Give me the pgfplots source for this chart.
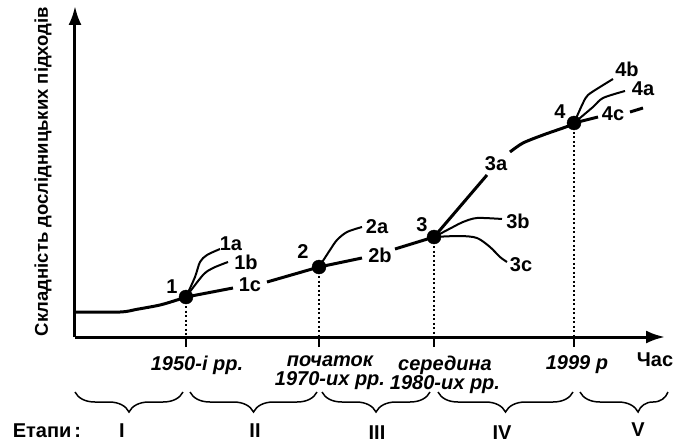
\documentclass[border=0pt]{standalone}
\usepackage{fontspec}
\setmainfont{Liberation Sans}
\usepackage{pgfplots}
\pgfplotsset{compat=1.18}
\usetikzlibrary{arrows.meta,decorations.pathreplacing}
\newcommand{\lab}{\fontsize{20bp}{22bp}\selectfont\bfseries}
\begin{document}
\begin{tikzpicture}
\begin{axis}[
  scale only axis, width=590bp, height=331bp,
  xmin=0, xmax=590, ymin=0, ymax=331,
  enlargelimits=false, clip=false,
  axis x line=bottom, axis y line=left,
  axis line style={line width=3bp},
  x axis line style={-{Latex[length=19bp,width=13bp]}},
  y axis line style={-{Latex[length=19bp,width=13bp]}},
  ytick=\empty,
  xtick={111,244,359},
  xticklabels={1950-і рр., {початок\\1970-их рр.}, {середина\\1980-их рр.}},
  extra x ticks={499}, extra x tick labels={1999 р},
  tick align=outside, major tick length=10bp,
  xtick style={line width=1.5bp, black},
  xticklabel style={font=\fontsize{20bp}{19.5bp}\selectfont\bfseries\itshape, align=center, xshift=11bp, yshift=-5bp},
  extra x tick style={xticklabel style={xshift=-8bp}},
  ylabel={Складність дослідницьких підходів},
  ylabel style={font=\fontsize{18.5bp}{21bp}\selectfont\bfseries, at={(axis description cs:-0.0339,0.5)}, anchor=south},
]
% main path
\addplot[smooth, line width=3bp] coordinates {(0,25) (45,25) (62,27.7) (85,32) (102,37) (111,40)};
\addplot[line width=3bp] coordinates {(111,40) (158,49)};
\addplot[line width=3bp] coordinates {(192,55) (244,70)};
\addplot[line width=3bp] coordinates {(244,70) (287,79)};
\addplot[line width=3bp] coordinates {(320,88) (359,100)};
\addplot[line width=3bp] coordinates {(359,100) (412,162)};
\addplot[smooth, line width=3bp] coordinates {(435,185) (448,194) (468,202) (488,209) (499,213)};
\addplot[line width=3bp] coordinates {(499,214) (523,220)};
\addplot[line width=3bp] coordinates {(555,225) (568,229)};
% branches
\addplot[smooth, line width=2bp] coordinates {(111,40) (120,60) (125,75) (132,82) (145,88)};
\addplot[smooth, line width=2bp] coordinates {(111,40) (128,62) (138,69) (153,75)};
\addplot[smooth, line width=2bp] coordinates {(244,70) (255,87) (262,97) (272,105) (287,110)};
\addplot[smooth, line width=2bp] coordinates {(359,100) (378,110) (388,115) (402,119) (427,118)};
\addplot[smooth, line width=2bp] coordinates {(359,100) (385,101) (402,99) (415,90) (425,80) (432,75)};
\addplot[smooth, line width=2bp] coordinates {(499,214) (518,230) (528,239) (550,246)};
\addplot[smooth, line width=2bp] coordinates {(499,214) (508,234) (513,242) (525,250) (538,258)};
% dotted verticals
\addplot[line width=1.5bp, dash pattern=on 2bp off 2.5bp] coordinates {(111,40) (111,0)};
\addplot[line width=1.5bp, dash pattern=on 2bp off 2.5bp] coordinates {(244,70) (244,0)};
\addplot[line width=1.5bp, dash pattern=on 2bp off 2.5bp] coordinates {(359,100) (359,0)};
\addplot[line width=1.5bp, dash pattern=on 2bp off 2.5bp] coordinates {(499,214) (499,0)};
% points
\addplot[only marks, mark=*, mark size=7bp, black] coordinates {(111,40) (244,70) (359,100) (499,214)};
% labels
\node[font=\lab] at (axis cs:97,50) {1};
\node[font=\lab] at (axis cs:156,93) {1a};
\node[font=\lab] at (axis cs:171,75) {1b};
\node[font=\lab] at (axis cs:175,52) {1c};
\node[font=\lab] at (axis cs:228,85) {2};
\node[font=\lab] at (axis cs:302,110) {2a};
\node[font=\lab] at (axis cs:305,82) {2b};
\node[font=\lab] at (axis cs:347,112) {3};
\node[font=\lab] at (axis cs:421,173) {3a};
\node[font=\lab] at (axis cs:443,116) {3b};
\node[font=\lab] at (axis cs:446,72) {3c};
\node[font=\lab] at (axis cs:485,225) {4};
\node[font=\lab] at (axis cs:568,248) {4a};
\node[font=\lab] at (axis cs:552,268) {4b};
\node[font=\lab] at (axis cs:538,223) {4c};
\node[font=\lab] at (axis cs:580,-23) {Час};
\node[font=\lab] at (axis cs:-28,-94) {Етапи\hspace{3bp}:};
\node[font=\lab] at (axis cs:47,-94) {I};
\node[font=\lab] at (axis cs:180,-94) {II};
\node[font=\lab] at (axis cs:302,-96) {III};
\node[font=\lab] at (axis cs:427,-96) {IV};
\node[font=\lab] at (axis cs:563,-93) {V};
% braces
\draw[line width=1.5bp, decorate, decoration={brace, mirror, amplitude=20bp}] (axis cs:0,-55) -- (axis cs:108,-55);
\draw[line width=1.5bp, decorate, decoration={brace, mirror, amplitude=20bp}] (axis cs:115,-55) -- (axis cs:242,-55);
\draw[line width=1.5bp, decorate, decoration={brace, mirror, amplitude=20bp}] (axis cs:247,-55) -- (axis cs:355,-55);
\draw[line width=1.5bp, decorate, decoration={brace, mirror, amplitude=20bp}] (axis cs:363,-55) -- (axis cs:498,-55);
\draw[line width=1.5bp, decorate, decoration={brace, mirror, amplitude=20bp, aspect=0.66}] (axis cs:505,-55) -- (axis cs:593,-55);
\coordinate (bl) at (axis cs:-75,-108);
\coordinate (tr) at (axis cs:598,337);
\end{axis}
\pgfresetboundingbox
\path (bl) rectangle (tr);
\end{tikzpicture}
\end{document}
